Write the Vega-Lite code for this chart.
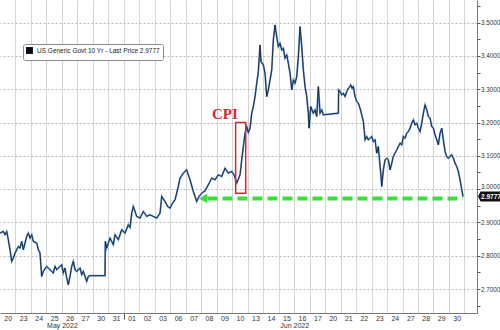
{
  "$schema": "https://vega.github.io/schema/vega-lite/v6.json",
  "width": 477,
  "height": 313,
  "autosize": {"type": "none"},
  "padding": {"left": 0, "top": 0, "right": 23, "bottom": 17},
  "background": "white",
  "config": {
    "view": {"stroke": null},
    "font": "Liberation Sans",
    "legend": {
      "orient": "none", "legendX": 23, "legendY": 44,
      "strokeColor": "#8a8a8a", "fillColor": "white", "padding": 3, "cornerRadius": 2,
      "labelFontSize": 6.5, "labelColor": "#222", "labelLimit": 400, "symbolSize": 30, "symbolType": "square",
      "title": null
    }
  },
  "data": {"values": [
    {"t":0,"v":2.868},{"t":0.213,"v":2.873},{"t":0.323,"v":2.863},{"t":0.433,"v":2.873},{"t":0.536,"v":2.848},{"t":0.646,"v":2.818},{"t":0.756,"v":2.783},{"t":0.859,"v":2.793},{"t":0.969,"v":2.808},{"t":1.079,"v":2.818},{"t":1.182,"v":2.828},{"t":1.292,"v":2.823},{"t":1.402,"v":2.843},{"t":1.505,"v":2.818},{"t":1.615,"v":2.838},{"t":1.725,"v":2.858},{"t":1.828,"v":2.868},{"t":1.938,"v":2.853},{"t":2.048,"v":2.863},{"t":2.151,"v":2.843},{"t":2.371,"v":2.838},{"t":2.474,"v":2.818},{"t":2.584,"v":2.808},{"t":2.629,"v":2.778},{"t":2.694,"v":2.738},{"t":2.797,"v":2.753},{"t":3.017,"v":2.768},{"t":3.12,"v":2.763},{"t":3.34,"v":2.753},{"t":3.443,"v":2.748},{"t":3.553,"v":2.768},{"t":3.663,"v":2.758},{"t":3.876,"v":2.768},{"t":3.986,"v":2.773},{"t":4.089,"v":2.748},{"t":4.199,"v":2.763},{"t":4.309,"v":2.733},{"t":4.412,"v":2.713},{"t":4.522,"v":2.738},{"t":4.632,"v":2.768},{"t":4.735,"v":2.783},{"t":4.845,"v":2.758},{"t":4.955,"v":2.753},{"t":5.168,"v":2.763},{"t":5.278,"v":2.743},{"t":5.381,"v":2.753},{"t":5.491,"v":2.738},{"t":5.601,"v":2.723},{"t":5.704,"v":2.738},{"t":5.814,"v":2.74},{"t":6.783,"v":2.74},{"t":6.802,"v":2.843},{"t":6.893,"v":2.823},{"t":7.106,"v":2.853},{"t":7.319,"v":2.833},{"t":7.429,"v":2.863},{"t":7.642,"v":2.848},{"t":7.862,"v":2.878},{"t":8.075,"v":2.868},{"t":8.288,"v":2.893},{"t":8.398,"v":2.885},{"t":8.508,"v":2.928},{"t":8.611,"v":2.948},{"t":8.831,"v":2.918},{"t":9.044,"v":2.913},{"t":9.257,"v":2.933},{"t":9.477,"v":2.918},{"t":9.69,"v":2.923},{"t":9.903,"v":2.918},{"t":10.123,"v":2.913},{"t":10.336,"v":2.928},{"t":10.446,"v":2.978},{"t":10.659,"v":2.963},{"t":10.82,"v":2.948},{"t":10.982,"v":2.943},{"t":11.143,"v":2.958},{"t":11.305,"v":2.968},{"t":11.518,"v":3.008},{"t":11.628,"v":3.033},{"t":11.841,"v":3.048},{"t":12.061,"v":3.058},{"t":12.164,"v":3.043},{"t":12.274,"v":3.028},{"t":12.487,"v":2.993},{"t":12.707,"v":2.963},{"t":12.855,"v":2.978},{"t":13.03,"v":2.988},{"t":13.243,"v":2.995},{"t":13.456,"v":3.013},{"t":13.676,"v":3.033},{"t":13.889,"v":3.028},{"t":14.102,"v":3.043},{"t":14.322,"v":3.038},{"t":14.535,"v":3.063},{"t":14.748,"v":3.048},{"t":14.968,"v":3.053},{"t":15.116,"v":3.043},{"t":15.291,"v":3.018},{"t":15.394,"v":3.03},{"t":15.504,"v":3.043},{"t":15.614,"v":3.088},{"t":15.717,"v":3.128},{"t":15.827,"v":3.168},{"t":15.937,"v":3.188},{"t":16.04,"v":3.17},{"t":16.15,"v":3.183},{"t":16.26,"v":3.228},{"t":16.363,"v":3.248},{"t":16.473,"v":3.278},{"t":16.583,"v":3.318},{"t":16.686,"v":3.353},{"t":16.796,"v":3.433},{"t":16.86,"v":3.383},{"t":17.009,"v":3.373},{"t":17.119,"v":3.348},{"t":17.229,"v":3.278},{"t":17.332,"v":3.298},{"t":17.442,"v":3.328},{"t":17.552,"v":3.358},{"t":17.655,"v":3.448},{"t":17.765,"v":3.493},{"t":17.875,"v":3.458},{"t":17.978,"v":3.428},{"t":18.088,"v":3.438},{"t":18.198,"v":3.418},{"t":18.301,"v":3.423},{"t":18.411,"v":3.393},{"t":18.521,"v":3.403},{"t":18.624,"v":3.378},{"t":18.734,"v":3.348},{"t":18.844,"v":3.298},{"t":18.947,"v":3.328},{"t":19.057,"v":3.318},{"t":19.167,"v":3.338},{"t":19.27,"v":3.398},{"t":19.38,"v":3.488},{"t":19.49,"v":3.428},{"t":19.593,"v":3.358},{"t":19.703,"v":3.308},{"t":19.813,"v":3.278},{"t":19.916,"v":3.228},{"t":19.961,"v":3.183},{"t":20.071,"v":3.248},{"t":20.239,"v":3.228},{"t":20.349,"v":3.238},{"t":20.459,"v":3.218},{"t":20.562,"v":3.308},{"t":20.672,"v":3.228},{"t":20.782,"v":3.238},{"t":20.885,"v":3.223},{"t":21.854,"v":3.228},{"t":21.873,"v":3.298},{"t":21.964,"v":3.293},{"t":22.074,"v":3.283},{"t":22.177,"v":3.288},{"t":22.287,"v":3.278},{"t":22.397,"v":3.293},{"t":22.5,"v":3.303},{"t":22.61,"v":3.308},{"t":22.655,"v":3.313},{"t":22.739,"v":3.303},{"t":22.823,"v":3.308},{"t":22.933,"v":3.278},{"t":23.043,"v":3.263},{"t":23.146,"v":3.258},{"t":23.256,"v":3.243},{"t":23.366,"v":3.223},{"t":23.469,"v":3.203},{"t":23.534,"v":3.173},{"t":23.579,"v":3.148},{"t":23.689,"v":3.158},{"t":23.792,"v":3.148},{"t":23.902,"v":3.153},{"t":24.012,"v":3.158},{"t":24.115,"v":3.143},{"t":24.225,"v":3.148},{"t":24.335,"v":3.108},{"t":24.438,"v":3.128},{"t":24.503,"v":3.093},{"t":24.593,"v":3.048},{"t":24.658,"v":3.008},{"t":24.761,"v":3.058},{"t":24.871,"v":3.088},{"t":24.981,"v":3.093},{"t":25.084,"v":3.088},{"t":25.194,"v":3.058},{"t":25.304,"v":3.078},{"t":25.407,"v":3.098},{"t":25.517,"v":3.108},{"t":25.627,"v":3.118},{"t":25.73,"v":3.128},{"t":25.84,"v":3.138},{"t":25.95,"v":3.133},{"t":26.053,"v":3.158},{"t":26.163,"v":3.153},{"t":26.273,"v":3.168},{"t":26.376,"v":3.173},{"t":26.486,"v":3.183},{"t":26.596,"v":3.198},{"t":26.699,"v":3.208},{"t":26.809,"v":3.193},{"t":26.919,"v":3.198},{"t":27.022,"v":3.183},{"t":27.132,"v":3.173},{"t":27.242,"v":3.198},{"t":27.345,"v":3.228},{"t":27.455,"v":3.253},{"t":27.565,"v":3.238},{"t":27.668,"v":3.218},{"t":27.778,"v":3.213},{"t":27.888,"v":3.188},{"t":27.991,"v":3.183},{"t":28.101,"v":3.163},{"t":28.211,"v":3.148},{"t":28.314,"v":3.133},{"t":28.424,"v":3.168},{"t":28.534,"v":3.183},{"t":28.637,"v":3.148},{"t":28.747,"v":3.113},{"t":28.857,"v":3.098},{"t":28.96,"v":3.093},{"t":29.07,"v":3.098},{"t":29.18,"v":3.103},{"t":29.283,"v":3.093},{"t":29.393,"v":3.078},{"t":29.503,"v":3.068},{"t":29.606,"v":3.053},{"t":29.716,"v":3.028},{"t":29.826,"v":2.998},{"t":29.91,"v":2.9777}
  ]},
  "encoding": {
    "x": {
      "field": "t", "type": "quantitative",
      "scale": {"domain": [0, 30.81], "nice": false, "zero": false},
      "axis": {
        "title": null, "orient": "bottom",
        "values": [0.5,1,1.5,2,2.5,3,3.5,4,4.5,5,5.5,6,6.5,7,7.5,8,8.5,9,9.5,10,10.5,11,11.5,12,12.5,13,13.5,14,14.5,15,15.5,16,16.5,17,17.5,18,18.5,19,19.5,20,20.5,21,21.5,22,22.5,23,23.5,24,24.5,25,25.5,26,26.5,27,27.5,28,28.5,29,29.5,30],
        "labelExpr": "datum.value % 1 == 0.5 ? ['20','23','24','25','26','27','30','31','01','02','03','06','07','08','09','10','13','14','15','16','17','20','21','22','23','24','27','28','29','30'][floor(datum.value)] : (datum.value == 4 ? ['', 'May 2022'] : (datum.value == 19 ? ['', 'Jun 2022'] : ''))",
        "labelOverlap": false, "labelFlush": false, "labelBound": false,
        "labelFontSize": 7, "labelColor": "#333", "labelPadding": -5, "labelLineHeight": 7.5,
        "grid": true,
        "gridColor": {"condition": {"test": "datum.value % 1 == 0", "value": "#d4d4d4"}, "value": "transparent"},
        "gridWidth": 1,
        "ticks": true, "tickSize": 6,
        "tickColor": {"condition": {"test": "datum.value == 8", "value": "#555"}, "value": "transparent"},
        "domainColor": "#777", "domainWidth": 1
      }
    },
    "y": {
      "field": "v", "type": "quantitative",
      "scale": {"domain": [2.628, 3.568], "nice": false, "zero": false},
      "axis": {
        "title": null, "orient": "right",
        "values": [2.65,2.7,2.75,2.8,2.85,2.9,2.95,3,3.05,3.1,3.15,3.2,3.25,3.3,3.35,3.4,3.45,3.5,3.55],
        "labelExpr": "abs(round(datum.value*10) - datum.value*10) < 0.01 ? format(datum.value, '.4f') : ''",
        "labelOverlap": false, "labelFlush": false, "labelBound": false,
        "labelFontSize": 6.3, "labelColor": "#333", "labelPadding": 0.5,
        "labelBaseline": {"condition": {"test": "abs(datum.value - 3) < 0.001", "value": "bottom"}, "value": "middle"},
        "grid": true,
        "gridColor": {"condition": {"test": "abs(round(datum.value*10) - datum.value*10) < 0.01", "value": "#b8b8b8"}, "value": "transparent"},
        "gridDash": [2, 2], "gridWidth": 1,
        "ticks": true, "tickSize": 3, "tickColor": "#555",
        "domainColor": "#777", "domainWidth": 1
      }
    }
  },
  "layer": [
    {"mark": {"type": "line", "color": "#5d92d4", "strokeWidth": 1.8, "interpolate": "linear"}},
    {
      "mark": {"type": "line", "strokeWidth": 0.8},
      "encoding": {
        "color": {
          "datum": "US Generic Govt 10 Yr - Last Price 2.9777",
          "scale": {"range": ["#0c1626"]},
          "legend": {"encode": {"symbols": {"update": {"fill": {"value": "#000"}, "stroke": {"value": "#000"}, "shape": {"value": "square"}}}}}
        }
      }
    },
    {
      "data": {"values": [{"t1": 13.4, "t2": 29.9, "v": 2.972}]},
      "mark": {"type": "rule", "color": "#39e039", "strokeWidth": 4, "strokeDash": [10, 5]},
      "encoding": {"x": {"field": "t1", "type": "quantitative"}, "x2": {"field": "t2"}, "y": {"field": "v", "type": "quantitative"}}
    },
    {
      "data": {"values": [{"t": 13.12, "v": 2.972}]},
      "mark": {"type": "point", "shape": "triangle-left", "filled": true, "color": "#39e039", "size": 90, "opacity": 1},
      "encoding": {"x": {"field": "t", "type": "quantitative"}, "y": {"field": "v", "type": "quantitative"}}
    },
    {
      "data": {"values": [{"t1": 15.22, "t2": 15.87, "v1": 2.988, "v2": 3.2}]},
      "mark": {"type": "rect", "fill": null, "fillOpacity": 0, "stroke": "#d8282e", "strokeWidth": 1.5},
      "encoding": {"x": {"field": "t1", "type": "quantitative"}, "x2": {"field": "t2"}, "y": {"field": "v1", "type": "quantitative"}, "y2": {"field": "v2"}}
    },
    {
      "data": {"values": [{"t": 14.53, "v": 3.226, "label": "CPI"}]},
      "mark": {"type": "text", "font": "Liberation Serif", "fontWeight": "bold", "fontSize": 15, "color": "#d8282e", "align": "center", "baseline": "middle"},
      "encoding": {"x": {"field": "t", "type": "quantitative"}, "y": {"field": "v", "type": "quantitative"}, "text": {"field": "label"}}
    },
    {
      "data": {"values": [{"t": 29.91, "v": 2.9777, "label": "2.9777"}]},
      "mark": {"type": "point", "shape": "M1.5,0 L1.75,-0.5 L3.9,-0.5 L3.9,0.5 L1.75,0.5 Z", "filled": true, "color": "#111", "size": 400, "opacity": 1},
      "encoding": {"x": {"field": "t", "type": "quantitative"}, "y": {"field": "v", "type": "quantitative"}}
    },
    {
      "data": {"values": [{"t": 29.91, "v": 2.9777, "label": "2.9777"}]},
      "mark": {"type": "text", "color": "white", "fontSize": 6.5, "fontWeight": "bold", "align": "left", "baseline": "middle", "dx": 18},
      "encoding": {"x": {"field": "t", "type": "quantitative"}, "y": {"field": "v", "type": "quantitative"}, "text": {"field": "label"}}
    }
  ]
}
